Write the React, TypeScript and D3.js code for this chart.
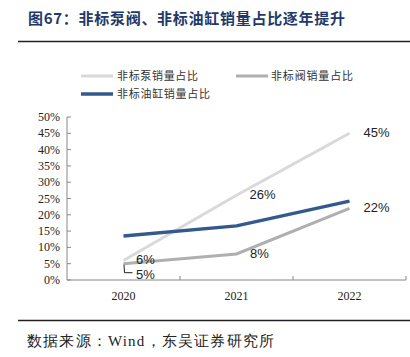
import React from "react";
import * as d3 from "d3";

const years = ["2020", "2021", "2022"];
const pumpShare = [6, 26, 45];
const valveShare = [5, 8, 22];
const cylinderShare = [13.5, 16.6, 24.2];
const yTicks = [0, 5, 10, 15, 20, 25, 30, 35, 40, 45, 50];
const titleText = "图67：非标泵阀、非标油缸销量占比逐年提升";
const sourceText = "数据来源：Wind，东吴证券研究所";
const legendNames = ["非标泵销量占比", "非标阀销量占比", "非标油缸销量占比"];

const W = 410, H = 357;
const left = 67, right = 406, top = 117, bottom = 280;

export default function App() {
  const x = d3.scaleBand<string>().domain(years).range([left, right]).padding(0);
  const y = d3.scaleLinear().domain([0, 50]).range([bottom, top]);
  const cx = (d: string) => (x(d) as number) + x.bandwidth() / 2;
  const line = d3.line<number>().x((_, i) => cx(years[i])).y((v) => y(v));

  const pumpColor = "#d9d9d9";
  const valveColor = "#afafaf";
  const cylColor = "#34598c";
  const axisColor = "#888";
  const serif = "'Liberation Serif', 'Times New Roman', serif";
  const sans = "'Liberation Sans', Arial, sans-serif";
  const cjk = "'Noto Sans CJK SC', sans-serif";

  const boundaries = [left, ...years.map((d) => (x(d) as number) + x.bandwidth())];

  return (
    <svg width={W} height={H} style={{ position: "absolute", left: 0, top: 0, background: "#fff" }}>
      <text x={28} y={24} fontFamily={cjk} fontWeight="bold" fontSize={15} fill="#1f3a6a" textLength={317} lengthAdjust="spacing">
        {titleText}
      </text>
      <line x1={18} x2={410} y1={41.5} y2={41.5} stroke="#222" strokeWidth={1.5} />

      {/* legend */}
      <line x1={81} x2={113} y1={76} y2={76} stroke={pumpColor} strokeWidth={3} />
      <text x={117} y={80} fontFamily={cjk} fontSize={11} fill="#333" textLength={81} lengthAdjust="spacing">{legendNames[0]}</text>
      <line x1={236} x2={268} y1={76} y2={76} stroke={valveColor} strokeWidth={3} />
      <text x={271} y={80} fontFamily={cjk} fontSize={11} fill="#333" textLength={82} lengthAdjust="spacing">{legendNames[1]}</text>
      <line x1={81} x2={113} y1={94} y2={94} stroke={cylColor} strokeWidth={3.5} />
      <text x={117} y={98} fontFamily={cjk} fontSize={11} fill="#333" textLength={93} lengthAdjust="spacing">{legendNames[2]}</text>

      {/* y axis */}
      <line x1={left} x2={left} y1={y(50)} y2={y(0)} stroke={axisColor} strokeWidth={1} />
      {yTicks.map((t) => (
        <g key={t}>
          <line x1={left} x2={left + 4} y1={y(t)} y2={y(t)} stroke={axisColor} />
          <text x={60} y={y(t) + 4} textAnchor="end" fontFamily={serif} fontSize={12} fill="#222">
            {t}%
          </text>
        </g>
      ))}
      {/* x axis */}
      <line x1={left} x2={right} y1={y(0)} y2={y(0)} stroke={axisColor} />
      {boundaries.slice(1).map((b, i) => (
        <line key={i} x1={b} x2={b} y1={y(0)} y2={y(0) - 4} stroke={axisColor} />
      ))}
      {years.map((d) => (
        <text key={d} x={cx(d)} y={300} textAnchor="middle" fontFamily={serif} fontSize={12} fill="#222">
          {d}
        </text>
      ))}

      {/* lines */}
      <path d={line(pumpShare) as string} fill="none" stroke={pumpColor} strokeWidth={3} />
      <path d={line(valveShare) as string} fill="none" stroke={valveColor} strokeWidth={3} />
      <path d={line(cylinderShare) as string} fill="none" stroke={cylColor} strokeWidth={3.5} />

      {/* labels */}
      <g fontFamily={sans} fontSize={13} fill="#222" textAnchor="middle">
        <text x={cx("2020") + 22} y={y(pumpShare[0]) + 4}>{pumpShare[0]}%</text>
        <text x={cx("2021") + 26} y={y(pumpShare[1]) + 4}>{pumpShare[1]}%</text>
        <text x={cx("2022") + 27} y={y(pumpShare[2]) + 4}>{pumpShare[2]}%</text>
        <text x={cx("2020") + 22} y={y(valveShare[0]) + 15}>{valveShare[0]}%</text>
        <text x={cx("2021") + 23} y={y(valveShare[1]) + 4}>{valveShare[1]}%</text>
        <text x={cx("2022") + 27} y={y(valveShare[2]) + 4}>{valveShare[2]}%</text>
      </g>
      <path
        d={`M${cx("2020") + 0.5},${y(valveShare[0]) + 1}L${cx("2020") + 1},${y(valveShare[0]) + 9}L${cx("2020") + 9},${y(valveShare[0]) + 9}`}
        fill="none"
        stroke="#222"
        strokeWidth={1}
      />

      <line x1={18} x2={410} y1={320.5} y2={320.5} stroke="#222" strokeWidth={1.5} />
      <text x={27} y={346} fontFamily={serif} fontSize={15} fill="#222" letterSpacing={1.2}>{sourceText}</text>
    </svg>
  );
}
